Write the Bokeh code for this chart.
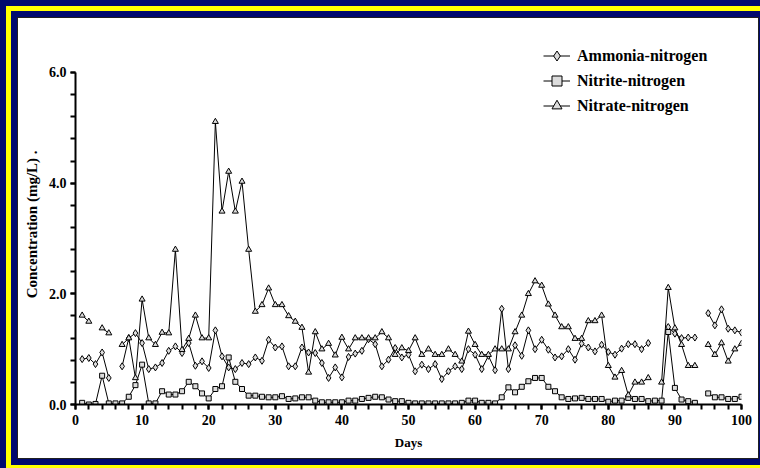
import numpy as np
from bokeh.plotting import figure
from bokeh.models import (FixedTicker, Legend, LegendItem,
                          PrintfTickFormatter, Range1d, ColumnDataSource)
from bokeh.embed import file_html
from bokeh.resources import INLINE

nan = float("nan")

days = list(range(1, 101))

ammonia = [0.82, 0.84, 0.73, 0.94, 0.48, nan, 0.69, 1.20, 1.29, 1.11,
           0.64, 0.67, 0.75, 0.97, 1.05, 0.93, 1.11, 0.70, 0.78, 0.66,
           1.34, 0.87, 0.67, 0.64, 0.75, 0.73, 0.85, 0.79, 1.17, 1.03,
           1.05, 0.69, 0.69, 1.03, 0.94, 0.93, 0.75, 0.48, 0.67, 0.49,
           0.86, 0.92, 0.97, 1.18, 1.09, 0.69, 0.81, 1.02, 0.85, 0.90,
           0.60, 0.72, 0.64, 0.73, 0.46, 0.60, 0.69, 0.64, 1.00, 0.90,
           0.64, 0.88, 0.62, 1.73, 0.64, 1.07, 0.88, 1.34, 1.00, 1.17,
           0.99, 0.85, 0.87, 1.00, 0.81, 1.10, 1.03, 0.96, 1.08, 0.95,
           0.90, 1.01, 1.09, 1.09, 1.00, 1.11, nan, nan, 1.40, 1.28,
           1.20, 1.21, 1.21, nan, 1.65, 1.43, 1.72, 1.37, 1.34, 1.30]

nitrite = [0.03, 0.00, 0.01, 0.52, 0.02, 0.02, 0.02, 0.14, 0.35, 0.72,
           0.02, 0.02, 0.24, 0.18, 0.18, 0.24, 0.41, 0.33, 0.20, 0.11,
           0.28, 0.33, 0.85, 0.41, 0.28, 0.16, 0.16, 0.14, 0.13, 0.13,
           0.15, 0.10, 0.11, 0.13, 0.13, 0.07, 0.04, 0.04, 0.04, 0.04,
           0.07, 0.07, 0.10, 0.12, 0.14, 0.13, 0.09, 0.06, 0.06, 0.03,
           0.02, 0.02, 0.02, 0.02, 0.02, 0.02, 0.02, 0.03, 0.07, 0.07,
           0.03, 0.03, 0.02, 0.13, 0.31, 0.22, 0.32, 0.42, 0.48, 0.48,
           0.32, 0.24, 0.13, 0.10, 0.11, 0.12, 0.10, 0.10, 0.10, 0.05,
           0.07, 0.07, 0.12, 0.10, 0.10, 0.06, 0.07, 0.07, 1.31, 0.30,
           0.09, 0.06, 0.03, nan, 0.20, 0.13, 0.13, 0.10, 0.10, 0.14]

nitrate = [1.61, 1.50, nan, 1.38, 1.29, nan, 1.08, 1.20, 0.48, 1.90,
           1.20, 1.08, 1.30, 1.29, 2.80, 0.99, 1.19, 1.61, 1.20, 1.20,
           5.11, 3.49, 4.21, 3.49, 4.03, 2.80, 1.68, 1.80, 2.10, 1.80,
           1.80, 1.60, 1.50, 1.39, 0.58, 1.31, 1.00, 1.10, 0.89, 1.21,
           1.00, 1.20, 1.20, 1.20, 1.20, 1.31, 1.20, 0.90, 1.02, 0.97,
           1.20, 0.90, 1.00, 0.90, 0.90, 1.00, 0.90, 0.78, 1.32, 1.08,
           0.90, 0.90, 1.00, 1.00, 1.00, 1.31, 1.61, 2.00, 2.23, 2.15,
           1.81, 1.61, 1.40, 1.40, 1.19, 1.19, 1.51, 1.51, 1.61, 0.70,
           0.49, 0.61, 0.17, 0.40, 0.40, 0.48, nan, 0.40, 2.11, 1.38,
           1.08, 0.70, 0.70, nan, 1.08, 0.90, 1.11, 0.78, 1.00, 1.10]

series_names = ["Ammonia-nitrogen", "Nitrite-nitrogen", "Nitrate-nitrogen"]
x_ticks = [0, 10, 20, 30, 40, 50, 60, 70, 80, 90, 100]
x_minor_ticks = list(range(0, 101, 2))
y_ticks = [0.0, 2.0, 4.0, 6.0]
y_minor_ticks = [0.4 * i for i in range(16)]

NAVY = "#00096e"
YELLOW = "#ffff00"
FILL = "#dcdcdc"
FONT = "Liberation Serif"

# figure = the white panel; the navy / yellow frame is drawn with CSS rings
p = figure(width=740, height=440, output_backend="svg", toolbar_location=None,
           x_range=Range1d(0, 100), y_range=Range1d(0, 6.578),
           min_border_left=57, min_border_right=17,
           min_border_top=22, min_border_bottom=54)
p.margin = (18, 0, 0, 18)
p.styles = {"box-shadow": "0 0 0 1px #202020, 0 0 0 7px " + NAVY +
            ", 0 0 0 12px " + YELLOW + ", 0 0 0 80px " + NAVY}
p.border_fill_color = "white"
p.background_fill_color = "white"
p.outline_line_color = None
p.grid.visible = False

src = ColumnDataSource(dict(day=np.array(days, dtype=float),
                            amm=np.array(ammonia, dtype=float),
                            nii=np.array(nitrite, dtype=float),
                            nia=np.array(nitrate, dtype=float)))

items = []
for col, marker, size, name in [("amm", "diamond", 7, series_names[0]),
                                ("nii", "square", 5, series_names[1]),
                                ("nia", "triangle", 6, series_names[2])]:
    ln = p.line("day", col, source=src, line_color="black", line_width=1)
    sc = p.scatter("day", col, source=src, marker=marker, size=size,
                   fill_color=FILL, line_color="black", line_width=1)
    items.append(LegendItem(label=name, renderers=[ln, sc]))

legend = Legend(items=items, location=(468, 286), orientation="vertical",
                glyph_width=27, glyph_height=25, label_height=25,
                spacing=0, padding=0, margin=0, label_standoff=7,
                border_line_color=None, background_fill_alpha=0,
                label_text_font=FONT, label_text_font_style="bold",
                label_text_font_size="16px", label_text_color="black")
p.add_layout(legend)

for ax in (p.xaxis, p.yaxis):
    ax.axis_line_width = 2
    ax.axis_line_color = "black"
    ax.major_tick_line_width = 2
    ax.minor_tick_line_width = 2
    ax.major_tick_out = 5
    ax.major_tick_in = 0
    ax.minor_tick_out = 5
    ax.minor_tick_in = 0
    ax.major_label_text_font = FONT
    ax.major_label_text_font_style = "bold"
    ax.major_label_text_font_size = "14px"
    ax.major_label_text_color = "black"
    ax.axis_label_text_font = FONT
    ax.axis_label_text_font_style = "bold"
    ax.axis_label_text_color = "black"

p.xaxis.ticker = FixedTicker(ticks=x_ticks, minor_ticks=x_minor_ticks)
p.yaxis.ticker = FixedTicker(ticks=y_ticks, minor_ticks=y_minor_ticks)
p.yaxis.bounds = (0, 6)
p.yaxis.formatter = PrintfTickFormatter(format="%.1f")
p.xaxis.axis_label = "Days"
p.xaxis.axis_label_text_font_size = "13px"
p.xaxis.major_label_standoff = 5
p.xaxis.axis_label_standoff = 7
p.yaxis.axis_label = "Concentration (mg/L)  ."
p.yaxis.axis_label_text_font_size = "15px"
p.yaxis.major_label_standoff = 4
p.yaxis.axis_label_standoff = 6

open("out.html", "w").write(file_html(p, INLINE))
